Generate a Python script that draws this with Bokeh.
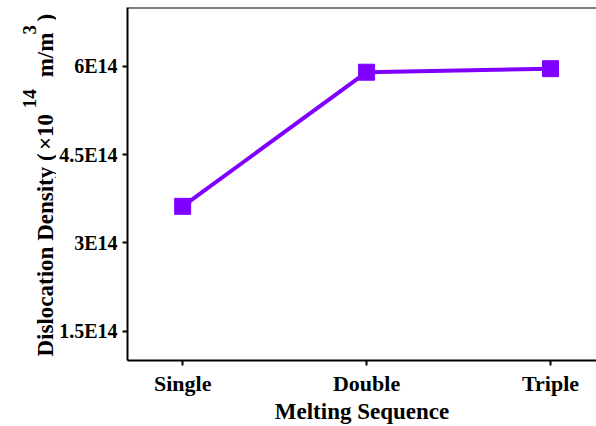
from bokeh.plotting import figure
from bokeh.models import FixedTicker, Range1d, Span
from bokeh.layouts import row
from bokeh.core.properties import value
from bokeh.embed import file_html
from bokeh.resources import INLINE
import math

# Dislocation density (units of 1E14 m/m^3) for each melting sequence
sequences = ["Single", "Double", "Triple"]
density = [3.62, 5.90, 5.96]

y_ticks = [1.5, 3, 4.5, 6]
y_tick_labels = ["1.5E14", "3E14", "4.5E14", "6E14"]

FONT = "Liberation Serif"
PURPLE = "#8000FF"
H = 426
TITLE_W = 56
FRAME_LEFT = 126
FRAME_TOP = 7
FRAME_BOTTOM = 361

x_pos = list(range(len(sequences)))

p = figure(width=596 - TITLE_W, height=H, output_backend="svg", toolbar_location=None,
           x_range=Range1d(-0.3, 2.25), y_range=Range1d(1.0, 7.0),
           min_border_left=FRAME_LEFT - TITLE_W, min_border_right=0,
           min_border_top=FRAME_TOP, min_border_bottom=H - FRAME_BOTTOM)

p.line(x_pos, density, line_color=PURPLE, line_width=4)
p.scatter(x_pos, density, marker="square", size=16,
          fill_color=PURPLE, line_color=PURPLE)

p.grid.visible = False
p.outline_line_color = None
p.background_fill_color = "white"
p.border_fill_color = "white"

# top border of the frame (no right border)
p.add_layout(Span(location=7.0, dimension="width", line_color="black", line_width=2))

xa = p.xaxis[0]
xa.ticker = FixedTicker(ticks=x_pos)
xa.major_label_overrides = {i: s for i, s in zip(x_pos, sequences)}
xa.axis_label = "Melting Sequence"

ya = p.yaxis[0]
ya.ticker = FixedTicker(ticks=y_ticks)
ya.major_label_overrides = {t: s for t, s in zip(y_ticks, y_tick_labels)}

for ax in (xa, ya):
    ax.axis_line_width = 2
    ax.axis_line_color = "black"
    ax.major_tick_line_width = 2
    ax.major_tick_in = 0
    ax.major_tick_out = 5
    ax.minor_tick_line_color = None
    ax.major_label_text_font = FONT
    ax.major_label_text_font_style = "bold"
    ax.major_label_text_color = "black"
    ax.axis_label_text_font = FONT
    ax.axis_label_text_font_style = "bold"
    ax.axis_label_text_color = "black"

xa.major_label_text_font_size = "22px"
xa.major_label_standoff = 5
xa.axis_label_text_font_size = "23px"
xa.axis_label_standoff = 0

ya.major_label_text_font_size = "20px"
ya.major_label_standoff = 5

# Narrow side panel holding the rotated y-axis title with superscripts.
# Its frame lines up with the main frame; data y = pixels counted from the bottom.
t = figure(width=TITLE_W, height=H, output_backend="svg", toolbar_location=None,
           x_range=Range1d(0, TITLE_W), y_range=Range1d(H - FRAME_BOTTOM, H - FRAME_TOP),
           x_axis_type=None, y_axis_type=None, min_border=0, title=None)
t.grid.visible = False
t.outline_line_color = None
t.background_fill_color = "white"
t.border_fill_color = "white"

base_text = ["Dislocation Density (", "\u00d710", "m/m", ")"]
base_x = [45, 45, 45, 45]
base_y = [H - 357, H - 150, H - 77, H - 21]
sup_text = ["14", "3"]
sup_x = [29, 29]
sup_y = [H - 108, H - 34]

t.text(base_x, base_y, text=base_text, angle=math.pi / 2, text_align="left",
       text_baseline="alphabetic", text_font=value(FONT), text_font_style="bold",
       text_font_size="23px", text_color="black")
t.text(sup_x, sup_y, text=sup_text, angle=math.pi / 2, text_align="left",
       text_baseline="alphabetic", text_font=value(FONT), text_font_style="bold",
       text_font_size="19px", text_color="black")

layout = row(t, p, spacing=0)
open("out.html", "w").write(file_html(layout, INLINE))
